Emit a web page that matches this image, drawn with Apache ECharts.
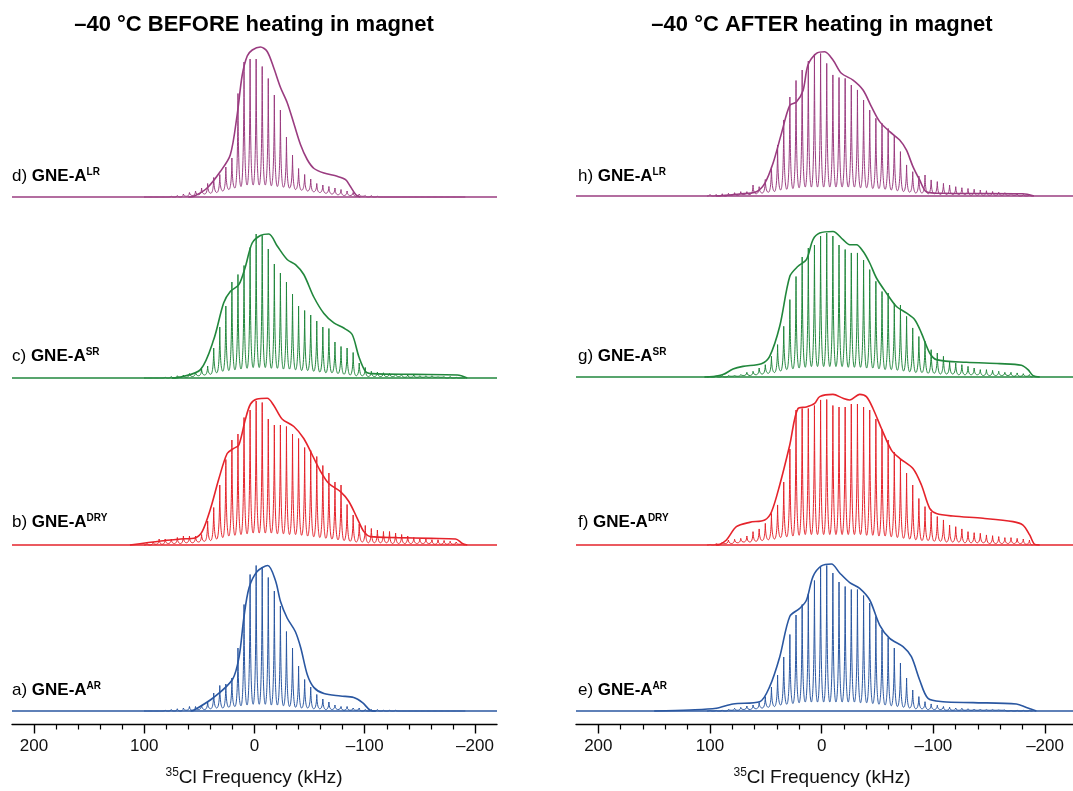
<!DOCTYPE html>
<html>
<head>
<meta charset="utf-8">
<script src="https://cdn.jsdelivr.net/npm/echarts@6/dist/echarts.min.js"></script>
<style>
  html, body { margin: 0; padding: 0; background: #fff; }
  #main { width: 1073px; height: 791px; }
</style>
</head>
<body>
<div id="main"></div>
<script>
// spinning sideband positions (kHz)
var sidebandsLeft = [97.5, 92, 86.5, 81, 75.5, 70, 64.5, 59, 53.5, 48,
  42.5, 37, 31.5, 26, 20.5, 15, 9.5, 4, -1.5, -7,
  -12.5, -18, -23.5, -29, -34.5, -40, -45.5, -51, -56.5, -62,
  -67.5, -73, -78.5, -84, -89.5, -95, -100.5, -106, -111.5, -117,
  -122.5, -128, -133.5, -139, -144.5, -150, -155.5, -161, -166.5, -172,
  -177.5, -183, -188.5];
var sidebandsRight = [100, 94.5, 89, 83.5, 78, 72.5, 67, 61.5, 56, 50.5,
  45, 39.5, 34, 28.5, 23, 17.5, 12, 6.5, 1, -4.5,
  -10, -15.5, -21, -26.5, -32, -37.5, -43, -48.5, -54, -59.5,
  -65, -70.5, -76, -81.5, -87, -92.5, -98, -103.5, -109, -114.5,
  -120, -125.5, -131, -136.5, -142, -147.5, -153, -158.5, -164, -169.5,
  -175, -180.5, -186];

// sideband heights and the level between sidebands (% of max)
var peaksA = [0, 0, 0, 0.5, 1, 1.5, 2, 3, 3, 4,
  6, 12, 17, 18, 22, 42, 71, 91, 97, 96,
  89, 80, 70, 53, 42, 30, 21, 16, 11, 8,
  6, 4, 3, 3, 2, 2, 1, 1, 1, 0.5,
  0.5, 0.5, 0, 0, 0, 0, 0, 0, 0, 0,
  0, 0, 0];
var floorA = [0, 0, 0, 0, 0, 0, 0, 0.5, 0.5, 1,
  1, 1.5, 2, 2, 2.5, 3, 3.5, 4, 4.5, 4.5,
  4.5, 4, 4, 3.5, 3, 2.5, 2, 2, 1.5, 1.5,
  1, 1, 1, 0.5, 0.5, 0.5, 0, 0, 0, 0,
  0, 0, 0, 0, 0, 0, 0, 0, 0, 0,
  0, 0, 0];
var peaksB = [1, 2, 4, 4, 4, 5, 6, 6, 6, 7,
  16, 25, 40, 57, 70, 74, 85, 90, 96, 95,
  84, 80, 80, 79, 74, 71, 65, 63, 59, 53,
  48, 42, 40, 27, 20, 14, 13, 11, 10, 9,
  9, 8, 7, 6, 5, 4, 4, 3.5, 3.5, 3,
  2.5, 2, 1];
var floorB = [0, 0, 0.5, 0.5, 1, 1, 1, 1.5, 1.5, 2,
  2.5, 3, 4, 5, 6, 6.5, 7, 7.5, 8, 8,
  8, 8, 7.5, 7.5, 7, 7, 6.5, 6, 5.5, 5,
  4.5, 4, 3.5, 3, 2.5, 2, 2, 1.5, 1.5, 1.5,
  1.5, 1, 1, 1, 1, 1, 1, 1, 0.5, 0.5,
  0.5, 0.5, 0.5];
var peaksC = [0, 0, 0, 0.5, 1, 1.5, 2, 3, 4, 6,
  8, 20, 34, 48, 64, 69, 75, 87, 96, 95,
  86, 76, 70, 64, 56, 48, 45, 42, 38, 34,
  33, 24, 21, 20, 17, 10, 7, 4.5, 4, 3.5,
  3, 2.5, 2.5, 2, 2, 1.5, 1.5, 1.5, 1, 1,
  1, 0.5, 0];
var floorC = [0, 0, 0, 0, 0, 0, 0.5, 0.5, 1, 1.5,
  2, 2.5, 3.5, 4.5, 5, 5.5, 6, 6.5, 7, 7,
  7, 6.5, 6.5, 6, 6, 5.5, 5, 5, 4.5, 4,
  3.5, 3.5, 3, 2.5, 2, 1.5, 1.5, 1, 1, 1,
  1, 1, 1, 0.5, 0.5, 0.5, 0.5, 0.5, 0.5, 0.5,
  0, 0, 0];
var peaksD = [0, 0, 0, 0, 0.5, 1, 2, 3, 4, 6,
  9, 13, 15, 20, 26, 69, 90, 92, 92, 87,
  79, 68, 58, 40, 28, 19, 15, 12, 9, 8,
  7, 6, 5, 4, 3, 2, 1, 1, 0.5, 0,
  0, 0, 0, 0, 0, 0, 0, 0, 0, 0,
  0, 0, 0];
var floorD = [0, 0, 0, 0, 0, 0, 0, 0.5, 1, 1.5,
  2, 2.5, 3, 4, 5, 6, 7, 8, 8, 8,
  8, 7.5, 7, 6.5, 6, 5, 4.5, 4, 3.5, 3,
  2.5, 2, 1.5, 1, 1, 0.5, 0.5, 0, 0, 0,
  0, 0, 0, 0, 0, 0, 0, 0, 0, 0,
  0, 0, 0];
var peaksE = [0.5, 0.5, 0.7, 1.1, 1.8, 2.4, 3.3, 4, 5.6, 9.6,
  16, 24, 36, 51, 64, 71, 78, 87, 96, 97,
  92, 86, 83, 81, 81, 77, 72, 63, 54, 49,
  42, 32, 22, 14, 9.6, 6.2, 4.7, 3.8, 3, 2.5,
  2, 1.8, 1.5, 1.3, 1.2, 1, 1, 0.8, 0.8, 0.6,
  0.5, 0.5, 0.5];
var floorE = [0, 0, 0, 0, 0.5, 0.5, 1, 1, 1.5, 2,
  2.5, 3, 4, 4.5, 5, 5.5, 6, 6, 6, 6,
  6, 6, 6, 6, 6, 5.5, 5.5, 5, 4.5, 4,
  3.5, 3, 2.5, 2, 1.5, 1.5, 1, 1, 1, 0.5,
  0.5, 0.5, 0.5, 0.5, 0.5, 0.5, 0.5, 0.5, 0.5, 0,
  0, 0, 0];
var peaksF = [0.5, 1, 2, 3.3, 3.8, 4.4, 6, 8.9, 10.7, 14.4,
  21, 26.7, 42, 64, 90, 91, 91, 93, 96.7, 97,
  93, 92, 92, 94, 94, 92, 90, 84, 77, 70,
  62, 57, 48, 40, 31, 25.6, 22, 19, 16.7, 13.3,
  12.2, 10.7, 8.9, 8.2, 7.8, 6.7, 6.2, 5.6, 4.9, 4.9,
  4.4, 4, 3.3];
var floorF = [0, 0, 0.5, 1, 1, 1.5, 2, 2, 2.5, 3,
  3.5, 4, 5, 5.5, 6, 6.5, 7, 7, 7, 7,
  7, 7, 7, 7, 7, 7, 6.5, 6.5, 6, 6,
  5.5, 5, 4.5, 4, 3.5, 3, 3, 2.5, 2.5, 2,
  2, 2, 1.5, 1.5, 1.5, 1.5, 1, 1, 1, 1,
  1, 1, 0.5];
var peaksG = [0.5, 0.8, 1, 1, 1.1, 1.6, 3.1, 3.8, 6, 8.2,
  13.8, 21.6, 33.8, 51.6, 67, 80, 86, 88, 94, 96,
  94, 88, 85, 82.7, 82.7, 78, 71.6, 63.8, 57, 56,
  49, 48, 40.4, 32.7, 27, 23.8, 18.2, 16, 13.8, 10.4,
  9.3, 8.2, 7.1, 6, 4.9, 4.9, 4.4, 3.8, 3.1, 3.1,
  2.7, 2.2, 1.6];
var floorG = [0, 0, 0, 0, 0.5, 0.5, 1, 1, 1.5, 2,
  2.5, 3, 4, 5, 5.5, 6, 6.5, 7, 7, 7,
  7, 7, 7, 6.5, 6.5, 6.5, 6, 6, 5.5, 5,
  5, 4.5, 4, 3.5, 3, 3, 2.5, 2.5, 2, 2,
  2, 1.5, 1.5, 1.5, 1.5, 1, 1, 1, 1, 1,
  0.5, 0.5, 0.5];
var peaksH = [1, 1, 1.5, 1.8, 2.2, 2.9, 2.9, 7.3, 6.2, 11,
  19.6, 34, 50.7, 66, 77, 84, 90, 94.7, 95, 88.4,
  80.7, 79, 78.4, 74, 70.7, 64, 57.3, 51.8, 48.4, 45,
  40.7, 29.6, 20.7, 16.2, 13.3, 14, 10.7, 9.6, 8.4, 7.3,
  6.2, 5.5, 5, 4.5, 4, 3.5, 3, 2.5, 2.2, 2,
  1.5, 1, 1];
var floorH = [0, 0, 0, 0, 0.5, 0.5, 1, 1, 1.5, 2,
  2.5, 3, 4, 4.5, 5, 5.5, 6, 6, 6, 6,
  6, 6, 6, 6, 6, 5.5, 5.5, 5, 5, 4.5,
  4, 3.5, 3, 2.5, 2, 2, 1.5, 1.5, 1, 1,
  1, 1, 1, 0.5, 0.5, 0.5, 0.5, 0.5, 0.5, 0.5,
  0.5, 0, 0];

// simulated static line shapes [kHz, %]
var fitA = [[58, 0], [55, 0.5], [37, 9], [20, 21], [14, 36], [9.7, 62], [5, 82], [-2.4, 93], [-12, 97],
  [-19, 87], [-23.6, 73], [-29.6, 62], [-37, 53], [-42, 42], [-48, 24], [-54, 15.6], [-63, 11.6],
  [-78, 10], [-90, 9], [-98, 5.6], [-105, 0.5], [-110, 0]];
var fitB = [[113, 0], [85, 2.7], [67, 4], [53.5, 4.9], [47.5, 8.9], [40, 24], [32.4, 44], [24.8, 61],
  [18.8, 64.4], [14.2, 66.7], [8.2, 84], [3.6, 94], [-2.4, 97.3], [-11.5, 97.8], [-17.5, 93], [-25, 84],
  [-35.7, 79], [-44.7, 71], [-52.4, 60], [-60, 49], [-67.4, 41], [-78, 35.6], [-85.6, 29], [-93.2, 17.8],
  [-99.2, 8.9], [-105.3, 5.6], [-129.5, 4.9], [-160, 4.4], [-182.4, 4], [-188.5, 1.1], [-193, 0]];
var fitC = [[75, 0], [67, 0.7], [49, 5.6], [37, 25.6], [28, 50], [21.8, 57.8], [14.2, 62.2], [8.2, 74.4],
  [2.1, 90], [-5.4, 95], [-13, 96], [-20.6, 88], [-29.6, 79], [-37.2, 75.6], [-44.7, 69], [-53.8, 54],
  [-63, 43], [-72, 36.7], [-81, 33.3], [-88.6, 29], [-94.6, 14.4], [-100.7, 4.4], [-106.8, 2.9],
  [-144.6, 2.4], [-184, 2], [-193, 0]];
var fitD = [[60, 0], [55, 0.5], [43, 6], [31, 17], [22, 28], [15.7, 55], [11.2, 81], [6.6, 94], [2, 98],
  [-5.4, 100], [-11.5, 97], [-17.5, 86], [-23.6, 73], [-29.6, 63], [-35.7, 49], [-41.7, 35], [-47.8, 25],
  [-54, 19], [-63, 16], [-75, 13.8], [-82.6, 11.6], [-87, 7], [-92, 1.5], [-96, 0]];
var fitE = [[150, 0], [118, 0.7], [94.3, 1.8], [79.4, 4.7], [55.5, 6.2], [46.6, 16.2], [37.6, 36],
  [28.6, 63], [19.7, 68.4], [13.7, 73.8], [7.8, 89.6], [0.3, 96.7], [-8.7, 98], [-16.1, 92], [-25.1, 85.6],
  [-34, 81.8], [-43, 74], [-51.9, 57.3], [-60.9, 48.4], [-72.8, 42.9], [-80.3, 36.2], [-87.7, 20.7],
  [-95.2, 8.4], [-108.6, 6.2], [-135.5, 5.6], [-174.3, 4.7], [-183.3, 2.4], [-192.2, 0]];
var fitF = [[95, 0], [91.3, 0.4], [85.3, 3.3], [76.4, 12.2], [64.5, 15.1], [51, 16.7], [45, 22],
  [37.6, 40], [28.6, 66.7], [21.2, 91], [13.7, 92], [6.3, 94.4], [1.8, 98.9], [-10.1, 100.4],
  [-19.1, 97.8], [-25.1, 96.7], [-34, 100.4], [-40, 98.9], [-45.9, 91], [-53.4, 77.8], [-62.4, 63.3],
  [-69.8, 57.8], [-81.7, 51], [-89.3, 40], [-96.7, 24.4], [-102.7, 21], [-117.5, 19.3], [-144.4, 17.8],
  [-171.3, 15.6], [-180.2, 13.3], [-186.2, 6.7], [-190.7, 0.4], [-195.2, 0]];
var fitG = [[105, 0], [97.3, 0.3], [88.4, 1.6], [79.4, 5.3], [70.5, 7.1], [54, 8.9], [46.6, 13.8],
  [37.6, 33.8], [28.6, 67], [21.2, 73.8], [13.7, 78.2], [7.8, 91.6], [1.8, 96], [-10.1, 97],
  [-19.1, 91.6], [-25.1, 88.2], [-31.1, 88.2], [-37, 83.8], [-43, 76], [-49, 66], [-57.9, 56],
  [-66.9, 47], [-75.8, 42.7], [-83.3, 38.2], [-89.3, 29.3], [-96.7, 16], [-102.7, 11.6], [-129.5, 9.8],
  [-159.4, 8.9], [-178.8, 7.8], [-184.7, 4.9], [-189.2, 0.9], [-195.2, 0]];
var fitH = [[95, 0], [88.4, 0.3], [73.4, 1.3], [58.5, 2.9], [51, 8.4], [43.6, 21.8], [36.1, 41.6],
  [28.6, 60.4], [22.7, 62.7], [16.7, 70.4], [12.3, 87.3], [4.7, 95.1], [-2.7, 96.2], [-10.1, 90.7],
  [-17.6, 81.8], [-28, 77.3], [-37, 70.7], [-44.5, 59.6], [-51.9, 49.6], [-60.9, 42.9], [-69.8, 37.3],
  [-75.8, 30.7], [-81.7, 19.6], [-87.7, 10.7], [-93.7, 2.9], [-108.6, 1.8], [-180, 1.5], [-190, 0]];

var tickLabels = [200, 100, 0, -100, -200];
var minorTicks = [180, 160, 140, 120, 80, 60, 40, 20, -20, -40, -60, -80, -120, -140, -160, -180];

var FONT = '"Liberation Sans", Arial, Helvetica, sans-serif';
var PURPLE = '#9a3c80', GREEN = '#21873c', RED = '#e5232b', BLUE = '#2a57a1';
var SPIKE_HALF = 2.75; // half the sideband spacing, kHz

var spectra = [
  { tag: 'a)', sup: 'AR', color: BLUE, panel: 0, peaks: peaksA, floor: floorA, fit: fitA, top: 546, labelY: 690, axis: true },
  { tag: 'b)', sup: 'DRY', color: RED, panel: 0, peaks: peaksB, floor: floorB, fit: fitB, top: 380, labelY: 522 },
  { tag: 'c)', sup: 'SR', color: GREEN, panel: 0, peaks: peaksC, floor: floorC, fit: fitC, top: 213, labelY: 356 },
  { tag: 'd)', sup: 'LR', color: PURPLE, panel: 0, peaks: peaksD, floor: floorD, fit: fitD, top: 32, labelY: 176 },
  { tag: 'e)', sup: 'AR', color: BLUE, panel: 1, peaks: peaksE, floor: floorE, fit: fitE, top: 546, labelY: 690, axis: true },
  { tag: 'f)', sup: 'DRY', color: RED, panel: 1, peaks: peaksF, floor: floorF, fit: fitF, top: 380, labelY: 522 },
  { tag: 'g)', sup: 'SR', color: GREEN, panel: 1, peaks: peaksG, floor: floorG, fit: fitG, top: 212, labelY: 356 },
  { tag: 'h)', sup: 'LR', color: PURPLE, panel: 1, peaks: peaksH, floor: floorH, fit: fitH, top: 31, labelY: 176 }
];

function tickText(v) {
  return v < 0 ? '\u2013' + Math.abs(v) : String(v);
}

function spikeRenderer(color) {
  return function (params, api) {
    var x = api.value(0);
    var p = api.coord([x, api.value(1)]);
    var l = api.coord([x + SPIKE_HALF, api.value(2)]);
    var r = api.coord([x - SPIKE_HALF, api.value(3)]);
    var d = 'M' + l[0] + ' ' + l[1] +
      ' C' + (l[0] + 0.4 * (p[0] - l[0])) + ' ' + l[1] + ' ' +
      (p[0] - 0.1 * (p[0] - l[0])) + ' ' + (l[1] - 0.15 * (l[1] - p[1])) + ' ' + p[0] + ' ' + p[1] +
      ' C' + (p[0] + 0.1 * (r[0] - p[0])) + ' ' + (r[1] - 0.15 * (r[1] - p[1])) + ' ' +
      (r[0] - 0.4 * (r[0] - p[0])) + ' ' + r[1] + ' ' + r[0] + ' ' + r[1];
    return {
      type: 'path',
      shape: { pathData: d },
      style: { stroke: color, fill: 'none', lineWidth: 1 }
    };
  };
}

var grids = [], xAxes = [], yAxes = [], series = [], graphics = [];

spectra.forEach(function (s, i) {
  var right = s.panel === 1;
  var xMin = right ? -225 : -220;
  grids.push({ left: right ? 576 : 12, width: right ? 497 : 485, top: s.top, height: 178.5 });
  xAxes.push({
    gridIndex: i, type: 'value', min: xMin, max: 220, inverse: true, show: !!s.axis, position: 'bottom',
    axisLine: { show: true, onZero: false, lineStyle: { color: '#000', width: 1.4 } },
    axisTick: { show: true, customValues: tickLabels, length: 9, lineStyle: { color: '#000', width: 1.4 } },
    axisLabel: { customValues: tickLabels, formatter: tickText, fontSize: 17, color: '#111', margin: 13, fontFamily: FONT },
    splitLine: { show: false }
  });
  yAxes.push({ gridIndex: i, type: 'value', min: -9, max: 110, show: false });

  var pos = right ? sidebandsRight : sidebandsLeft;
  var items = pos.map(function (p, k) {
    return [p, s.peaks[k], s.floor[k], k + 1 < s.floor.length ? s.floor[k + 1] : 0];
  });

  series.push({
    type: 'line', xAxisIndex: i, yAxisIndex: i, data: [[220, 0], [xMin, 0]],
    symbol: 'none', silent: true, clip: false,
    lineStyle: { color: s.color, width: 1.6 }
  });
  series.push({
    type: 'custom', xAxisIndex: i, yAxisIndex: i, data: items,
    renderItem: spikeRenderer(s.color), silent: true, clip: false
  });
  series.push({
    type: 'line', xAxisIndex: i, yAxisIndex: i, data: s.fit,
    symbol: 'none', smooth: 0.3, silent: true, clip: false,
    lineStyle: { color: s.color, width: 1.6 }
  });

  graphics.push({
    type: 'text', x: right ? 578 : 12, y: s.labelY,
    style: {
      text: '{n|' + s.tag + ' }{b|GNE-A}{s|' + s.sup + '}',
      verticalAlign: 'middle',
      rich: {
        n: { fontSize: 17, fontFamily: FONT, fill: '#000', verticalAlign: 'bottom' },
        b: { fontSize: 17, fontFamily: FONT, fontWeight: 'bold', fill: '#000', verticalAlign: 'bottom' },
        s: { fontSize: 10, fontFamily: FONT, fontWeight: 'bold', fill: '#000', verticalAlign: 'bottom', padding: [0, 0, 8, 0] }
      }
    }
  });
});

// minor ticks for the two visible axes
[0, 4].forEach(function (gi) {
  xAxes.push({
    gridIndex: gi, type: 'value', min: spectra[gi].panel ? -225 : -220, max: 220, inverse: true, position: 'bottom',
    axisLine: { show: false, onZero: false },
    axisTick: { show: true, customValues: minorTicks, length: 5, lineStyle: { color: '#000', width: 1.2 } },
    axisLabel: { show: false },
    splitLine: { show: false }
  });
});

// panel titles and axis names
[{ x: 254, title: '\u201340 \u00b0C BEFORE heating in magnet' },
 { x: 822, title: '\u201340 \u00b0C AFTER heating in magnet' }].forEach(function (p) {
  graphics.push({
    type: 'text', x: p.x, y: 25,
    style: { text: p.title, align: 'center', verticalAlign: 'middle', fontSize: 22, fontWeight: 'bold', fontFamily: FONT, fill: '#000' }
  });
  graphics.push({
    type: 'text', x: p.x, y: 777,
    style: {
      text: '{s|35}{m|Cl Frequency (kHz)}', align: 'center', verticalAlign: 'middle',
      rich: {
        s: { fontSize: 12, fontFamily: FONT, fill: '#111', verticalAlign: 'bottom', padding: [0, 0, 9, 0] },
        m: { fontSize: 19, fontFamily: FONT, fill: '#111', verticalAlign: 'bottom' }
      }
    }
  });
});

var chart = echarts.init(document.getElementById('main'));
chart.setOption({
  animation: false,
  backgroundColor: '#fff',
  textStyle: { fontFamily: FONT },
  grid: grids,
  xAxis: xAxes,
  yAxis: yAxes,
  series: series,
  graphic: graphics
});
</script>
</body>
</html>
